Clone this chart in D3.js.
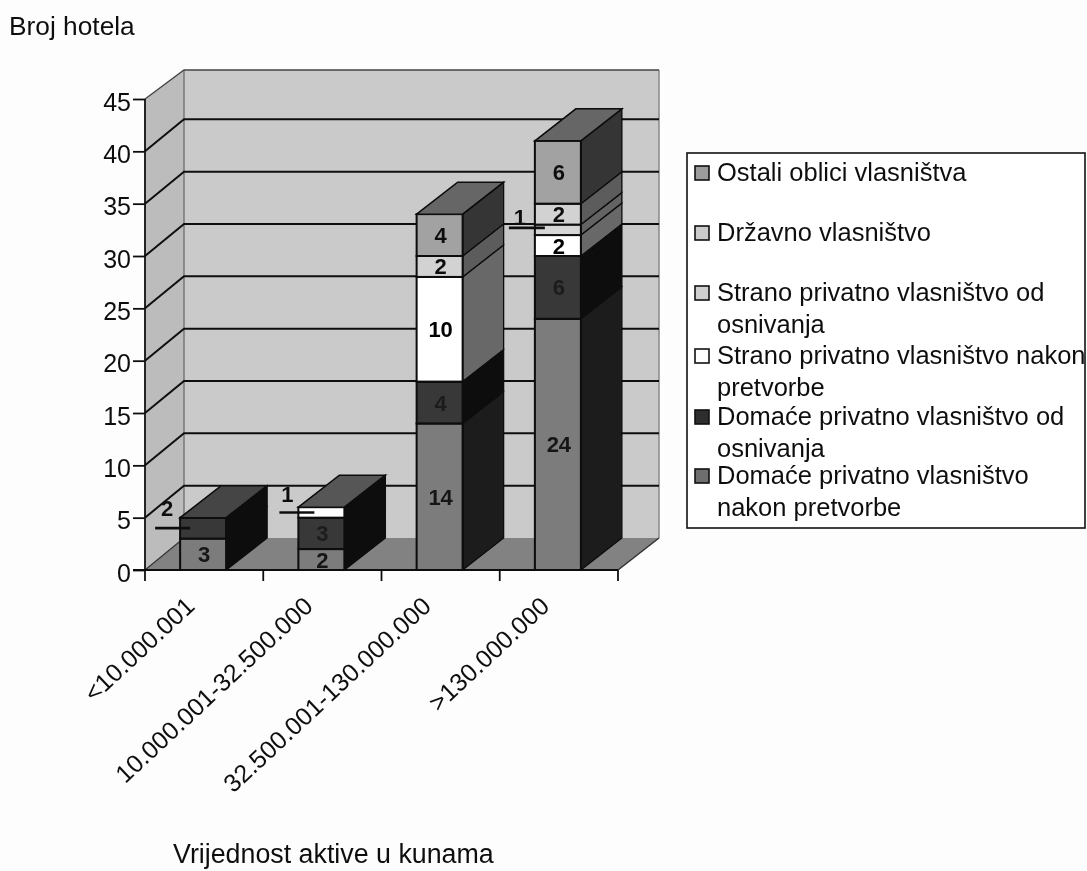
<!DOCTYPE html>
<html><head><meta charset="utf-8">
<script src="https://cdn.jsdelivr.net/npm/d3@7"></script>
<style>html,body{margin:0;padding:0;background:#fff}svg{display:block}text{font-family:"Liberation Sans",Arial,sans-serif;fill:#111}</style>
</head><body><svg id="c" width="1087" height="871"></svg>
<script>
const categories = ["<10.000.001","10.000.001-32.500.000","32.500.001-130.000.000",">130.000.000"];
const yTicks = [0,5,10,15,20,25,30,35,40,45];
const seriesNames = [
  ["Domaće privatno vlasništvo","nakon pretvorbe"],
  ["Domaće privatno vlasništvo od","osnivanja"],
  ["Strano privatno vlasništvo nakon","pretvorbe"],
  ["Strano privatno vlasništvo od","osnivanja"],
  ["Državno vlasništvo"],
  ["Ostali oblici vlasništva"]
];
const domacePretvorba = [3,2,14,24];
const domaceOsnivanje = [2,3,4,6];
const stranoPretvorba = [0,1,10,2];
const stranoOsnivanje = [0,0,0,1];
const drzavno = [0,0,2,2];
const ostali = [0,0,4,6];
const seriesValues = [domacePretvorba,domaceOsnivanje,stranoPretvorba,stranoOsnivanje,drzavno,ostali];

const frontCol = ["#7b7b7b","#383838","#ffffff","#d6d6d6","#d2d2d2","#a2a2a2"];
const sideCol  = ["#1e1e1e","#080808","#686868","#636363","#5c5c5c","#363636"];
const topCol   = ["#666","#444444","#565656","#666","#666","#666"];
const legendFill = ["#6e6e6e","#2e2e2e","#ffffff","#cfcfcf","#cbcbcb","#9c9c9c"];
const labelCol = ["#161616","#1c1c1c","#000","#111","#111","#111"];
const shortBarSide = "#0a0a0a";

const svg = d3.select("#c");
const defs = svg.append("defs");
defs.append("filter").attr("id","scan").attr("x",0).attr("y",0).attr("width",1).attr("height",1)
  .append("feGaussianBlur").attr("stdDeviation",0.7);
const root = svg.append("g").attr("filter","url(#scan)");
root.append("rect").attr("width",1087).attr("height",871).attr("fill","#fdfdfd");

const x = d3.scaleBand().domain(categories).range([145,618]);
const y = d3.scaleLinear().domain([0,45]).range([570,99]);
const dx = 39, dy = -32, barW = 46;
const poly = pts => pts.map(p=>p.join(",")).join(" ");
const y0 = y(0), yT = y(45), xL = x.range()[0], xR = x.range()[1];
const wallTop = yT+dy+3;

// walls
root.append("polygon").attr("points",poly([[xL,y0],[xL+dx,y0+dy],[xL+dx,wallTop],[xL,yT]])).attr("fill","#bcbcbc");
root.append("polygon").attr("points",poly([[xL+dx,y0+dy],[xR+dx+2,y0+dy],[xR+dx+2,wallTop],[xL+dx,wallTop]])).attr("fill","#cacaca");
root.append("polygon").attr("points",poly([[xL,y0],[xR,y0],[xR+dx+2,y0+dy],[xL+dx,y0+dy]])).attr("fill","#828282");
root.append("path").attr("d",`M${xL+dx},${y0+dy}V${wallTop}`).attr("stroke","#777").attr("stroke-width",1.5).attr("fill","none");
root.append("path").attr("d",`M${xR+dx+2},${y0+dy}V${wallTop}`).attr("stroke","#888").attr("stroke-width",1.5).attr("fill","none");
root.append("path").attr("d",`M${xL},${yT}L${xL+dx},${wallTop}H${xR+dx+2}`).attr("stroke","#444").attr("stroke-width",1.3).attr("fill","none");
root.append("path").attr("d",`M${xR},${y0}L${xR+dx+2},${y0+dy}`).attr("stroke","#333").attr("stroke-width",1.5).attr("fill","none");
// gridlines
root.selectAll(".g").data(yTicks.slice(1,-1)).join("path").attr("class","g")
  .attr("d",v=>`M${xL},${y(v)}L${xL+dx},${y(v)+dy}H${xR+dx+2}`)
  .attr("fill","none").attr("stroke","#111").attr("stroke-width",2);
root.append("path").attr("d",`M${xL},${y0}L${xL+dx},${y0+dy}`).attr("stroke","#333").attr("stroke-width",1.2);

// bars
const leaders = {"0-1":{a:-48,b:-13,tx:-36,ty:-12,ly:0},"1-2":{a:-42,b:-7,tx:-34,ty:-10,ly:0},"3-3":{a:-49,b:-13,tx:-38,ty:-5,ly:-2}};
const labels = [];
categories.forEach((c,ci)=>{
  const cx = x(c)+x.bandwidth()/2-1;
  const xa = cx-barW/2, xb = cx+barW/2;
  let base = 0, lastS = 0;
  seriesValues.forEach((vals,si)=>{
    const v = vals[ci];
    if(!v) return;
    const yb = y(base), yt = y(base+v);
    root.append("polygon").attr("points",poly([[xb,yb],[xb+dx+2,yb+dy],[xb+dx+2,yt+dy],[xb,yt]]))
      .attr("fill",ci<2?shortBarSide:sideCol[si]).attr("stroke","#0a0a0a").attr("stroke-width",1.3);
    root.append("rect").attr("x",xa).attr("y",yt).attr("width",barW).attr("height",yb-yt)
      .attr("fill",frontCol[si]).attr("stroke","#0a0a0a").attr("stroke-width",2);
    labels.push({ci,si,v,cx,my:(yb+yt)/2});
    base += v; lastS = si;
  });
  const yt = y(base);
  root.append("polygon").attr("points",poly([[xa,yt],[xa+dx+2,yt+dy],[xb+dx+2,yt+dy],[xb,yt]]))
    .attr("fill",topCol[lastS]).attr("stroke","#0a0a0a").attr("stroke-width",1.5);
});
// data labels
labels.forEach(l=>{
  const L = leaders[l.ci+"-"+l.si];
  if(L){
    root.append("path").attr("d",`M${l.cx+L.a},${l.my+L.ly}H${l.cx+L.b}`).attr("stroke","#111").attr("stroke-width",2.6);
    root.append("text").attr("x",l.cx+L.tx).attr("y",l.my+L.ty).attr("text-anchor","middle")
      .attr("font-size",22).attr("font-weight","bold").text(l.v);
  } else {
    root.append("text").attr("x",l.cx+1).attr("y",l.my+8).attr("text-anchor","middle")
      .attr("font-size",22).attr("font-weight","bold").style("fill",labelCol[l.si]).text(l.v);
  }
});

// axes
const yAxis = d3.axisLeft(y).tickValues(yTicks).tickSize(12).tickPadding(2);
const gy = root.append("g").attr("transform",`translate(${xL},0)`).call(yAxis);
gy.selectAll("text").attr("font-size",25).attr("dy","0.44em").style("font-family",'"Liberation Sans",Arial,sans-serif');
gy.selectAll("path,line").attr("stroke","#111").attr("stroke-width",1.8);
gy.select(".domain").attr("d",`M0,${y0}V${yT}`);
const gx = root.append("g");
gx.append("path").attr("d",`M${xL-12},${y0}H${xR}`).attr("stroke","#111").attr("stroke-width",1.8);
const edges = categories.map(c=>x(c)).concat([xR]);
gx.selectAll("line").data(edges).join("line").attr("x1",d=>d).attr("x2",d=>d).attr("y1",y0).attr("y2",y0+11).attr("stroke","#111").attr("stroke-width",1.8);
gx.selectAll("text").data(categories).join("text")
  .attr("transform",c=>`translate(${x(c)+x.bandwidth()/2-8},${y0+38}) rotate(-43)`)
  .attr("text-anchor","end").attr("font-size",25).text(c=>c);

// titles
root.append("text").attr("x",9).attr("y",35).attr("font-size",26.3).text("Broj hotela");
root.append("text").attr("x",173).attr("y",863).attr("font-size",26.8).text("Vrijednost aktive u kunama");

// legend
root.append("rect").attr("x",687).attr("y",153).attr("width",398).attr("height",375).attr("fill","#fff").attr("stroke","#111").attr("stroke-width",1.6);
const legendRows = [5,4,3,2,1,0];
const legendSwatchY = [173,233,293,356,417,476];
const lineGap = 32;
legendRows.forEach((s,i)=>{
  const cy = legendSwatchY[i];
  root.append("rect").attr("x",695).attr("y",cy-7).attr("width",14).attr("height",14)
    .attr("fill",legendFill[s]).attr("stroke","#111").attr("stroke-width",1.6);
  seriesNames[s].forEach((t,k)=>{
    root.append("text").attr("x",717).attr("y",cy+8+k*lineGap).attr("font-size",25.5).text(t);
  });
});
</script></body></html>
